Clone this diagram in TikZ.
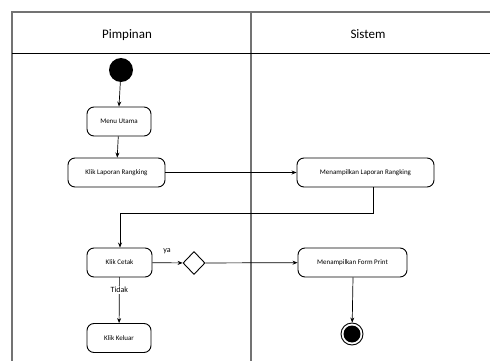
\documentclass[tikz,border=0pt]{standalone}
\usepackage{fontspec}
\setmainfont{Carlito}
\usetikzlibrary{shapes.geometric,arrows.meta}
\begin{document}
\begin{tikzpicture}[x=1pt,y=-1pt,
  act/.style={draw,rounded corners=7pt,line width=0.9pt,minimum height=29pt,inner sep=2pt,font=\fontsize{7}{8}\selectfont},
  conn/.style={draw,line width=0.7pt,-{Stealth[length=5pt,width=4pt]}},
  lane/.style={draw=black!55,line width=1.3pt},
  lbl/.style={font=\fontsize{8}{9}\selectfont,inner sep=1pt},
  hdr/.style={font=\fontsize{13}{15}\selectfont}]
\useasboundingbox (0,0) rectangle (490,361);
\begin{scope}
\clip (0,0) rectangle (490,361);
\draw[lane] (12,400) -- (12,12) -- (520,12);
\draw[lane] (251,12) -- (251,400);
\draw[line width=1pt] (12,54) -- (520,54);
\end{scope}
\node[hdr] (h1) at (127,35) {Pimpinan};
\node[hdr] (h2) at (368,34) {Sistem};
\node[circle,fill=black,minimum size=24pt,inner sep=0pt] (start) at (121,70) {};
\node[act,minimum width=64pt] (menu) at (119,121.5) {Menu Utama};
\node[act,minimum width=97pt] (klap) at (116.5,172.5) {Klik Laporan Rangking};
\node[act,minimum width=137pt] (mlap) at (365.5,172.5) {Menampilkan Laporan Rangking};
\node[act,minimum width=65pt] (cetak) at (119.5,262.5) {Klik Cetak};
\node[draw,diamond,line width=0.9pt,minimum width=22pt,minimum height=23pt,inner sep=0pt] (dec) at (194,263) {};
\node[act,minimum width=109pt] (form) at (352.5,262.5) {Menampilkan Form Print};
\node[act,minimum width=64pt] (keluar) at (119,338) {Klik Keluar};
\node[circle,draw,line width=0.9pt,minimum size=22pt,inner sep=0pt] (end) at (352,334) {};
\node[circle,fill=black,minimum size=17pt,inner sep=0pt] at (end) {};
\draw[conn] (start) -- (menu.north);
\draw[conn] (menu) -- (klap);
\draw[conn] (klap) -- (mlap);
\draw[conn] (mlap.south -| 373,0) |- (120,213) -- (cetak.north -| 120,0);
\draw[conn] (cetak) -- (dec);
\draw[conn] (dec) -- (form);
\draw[conn] (form.south -| 353,0) -- (end);
\draw[conn] (cetak) -- node[pos=0.28,fill=white,lbl] (tidak) {Tidak} (keluar);
\node[lbl] (ya) at (167,251) {ya};
\end{tikzpicture}
\end{document}
